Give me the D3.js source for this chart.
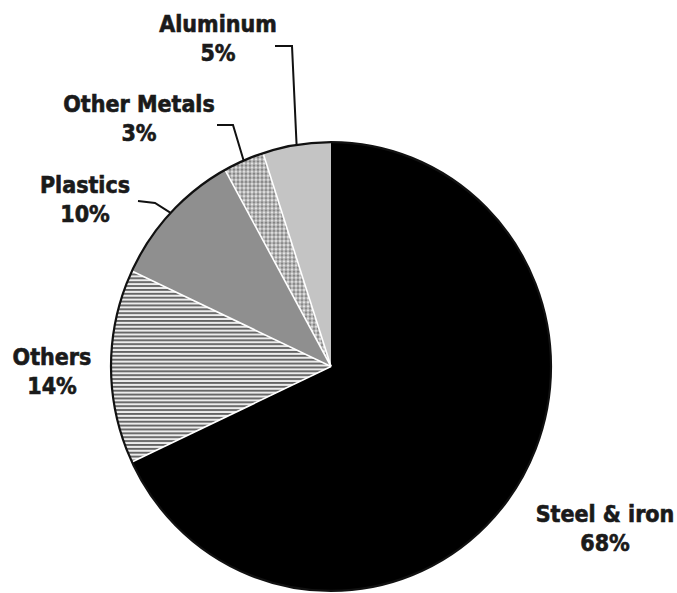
<!DOCTYPE html>
<html>
<head>
<meta charset="utf-8">
<script src="https://cdn.jsdelivr.net/npm/d3@7"></script>
<style>
  html, body { margin: 0; padding: 0; background: #fff; }
  svg { display: block; }
  .lbl { font-family: "Liberation Sans Narrow", "DejaVu Sans Condensed", "Arial Narrow", sans-serif; font-weight: bold; font-size: 23px; fill: #1a1a1a; stroke: #1a1a1a; stroke-width: 0.6px; }
</style>
</head>
<body>
<svg id="chart" width="677" height="593"></svg>
<script>
// Data (clockwise from 12 o'clock)
const categories = ["Steel & iron", "Others", "Plastics", "Other Metals", "Aluminum"];
const values = [68, 14, 10, 3, 5];
const valueLabels = ["68%", "14%", "10%", "3%", "5%"];

const fills = ["#000000", "url(#stripes)", "#8f8f8f", "url(#dots)", "#c4c4c4"];
// label anchor positions (layout)
const labelPos = [[605, 522], [52, 365], [85, 193], [139, 112], [218, 32]];
// leader line start points (layout), null = no leader
const leaderStart = [null, null, [[138, 201], [155, 203]], [[217, 125], [233, 125]], [[275, 46], [292, 46]]];

const svg = d3.select("#chart");
const defs = svg.append("defs");

const st = defs.append("pattern").attr("id", "stripes").attr("patternUnits", "userSpaceOnUse")
  .attr("width", 8).attr("height", 3.8);
st.append("rect").attr("width", 8).attr("height", 3.8).attr("fill", "#ececec");
st.append("rect").attr("y", 0).attr("width", 8).attr("height", 1.8).attr("fill", "#626262");

const dp = defs.append("pattern").attr("id", "dots").attr("patternUnits", "userSpaceOnUse")
  .attr("width", 4).attr("height", 4);
dp.append("rect").attr("width", 4).attr("height", 4).attr("fill", "#b4b4b4");
dp.append("circle").attr("cx", 1).attr("cy", 1).attr("r", 0.95).attr("fill", "#e8e8e8");
dp.append("circle").attr("cx", 3).attr("cy", 3).attr("r", 0.95).attr("fill", "#7c7c7c");

const cx = 331, cy = 366.5, r = 220, sy = 1.02;

const pie = d3.pie().sort(null).value(d => d);
const arcs = pie(values);
const arc = d3.arc().innerRadius(0).outerRadius(r);

const g = svg.append("g").attr("transform", `translate(${cx},${cy}) scale(1,${sy})`);

g.selectAll("path.slice").data(arcs).enter().append("path")
  .attr("class", "slice")
  .attr("d", arc)
  .attr("fill", (d, i) => fills[i]);

// white separators between slices (except at 12 o'clock)
g.selectAll("line.sep").data(arcs.slice(1)).enter().append("line")
  .attr("x1", 0).attr("y1", 0)
  .attr("x2", d => r * Math.sin(d.startAngle))
  .attr("y2", d => -r * Math.cos(d.startAngle))
  .attr("stroke", "#fff").attr("stroke-width", 1.6);

// outer outline
g.append("ellipse").attr("cx", 0).attr("cy", 0).attr("rx", r).attr("ry", r)
  .attr("fill", "none").attr("stroke", "#111").attr("stroke-width", 2.2);

// leader lines
const line = d3.line();
arcs.forEach((d, i) => {
  if (!leaderStart[i]) return;
  const mid = (d.startAngle + d.endAngle) / 2;
  const end = [cx + r * Math.sin(mid), cy - r * Math.cos(mid) * sy];
  svg.append("path")
    .attr("d", line(leaderStart[i].concat([end])))
    .attr("fill", "none").attr("stroke", "#111").attr("stroke-width", 2);
});

// labels
arcs.forEach((d, i) => {
  const t = svg.append("text").attr("class", "lbl").attr("text-anchor", "middle")
    .attr("x", labelPos[i][0]).attr("y", labelPos[i][1]);
  t.append("tspan").attr("x", labelPos[i][0]).attr("dy", 0).text(categories[i]);
  t.append("tspan").attr("x", labelPos[i][0]).attr("dy", 29).text(valueLabels[i]);
});
</script>
</body>
</html>
